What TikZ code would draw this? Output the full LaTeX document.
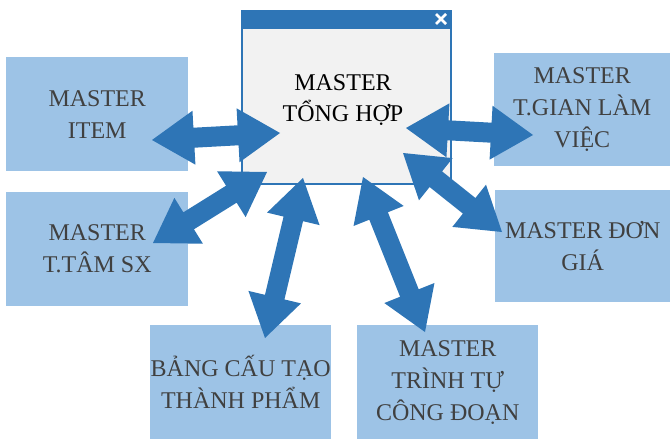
\documentclass[tikz,border=0pt]{standalone}
\usepackage{fontspec}
\setmainfont{Liberation Serif}
\usetikzlibrary{calc}

\definecolor{boxblue}{HTML}{9DC3E6}
\definecolor{arrowblue}{HTML}{2E75B6}
\definecolor{textgray}{HTML}{404040}
\definecolor{panelgray}{HTML}{F2F2F2}

% Thick two-headed block arrow between two named points
\newcommand\dblarrow[2]{%
  \fill[arrowblue] (#1)
    -- ($(#1)!42pt!(#2)!27pt!90:(#2)$)
    -- ($(#1)!42pt!(#2)!10pt!90:(#2)$)
    -- ($(#2)!42pt!(#1)!10pt!-90:(#1)$)
    -- ($(#2)!42pt!(#1)!27pt!-90:(#1)$)
    -- (#2)
    -- ($(#2)!42pt!(#1)!27pt!90:(#1)$)
    -- ($(#2)!42pt!(#1)!10pt!90:(#1)$)
    -- ($(#1)!42pt!(#2)!10pt!-90:(#2)$)
    -- ($(#1)!42pt!(#2)!27pt!-90:(#2)$)
    -- cycle;}

\begin{document}
\begin{tikzpicture}[x=1pt,y=-1pt,
  masterbox/.style={fill=boxblue, draw=none, text=textgray, align=center,
    inner sep=0pt, anchor=north west,
    font=\fontsize{24}{32}\selectfont},
  hubwin/.style={draw=arrowblue, line width=2pt, fill=panelgray,
    inner sep=0pt, anchor=north west},
  hubtitle/.style={align=center, text=black, font=\fontsize{24}{31}\selectfont}]
\useasboundingbox (0,0) rectangle (670,439);

% Surrounding master tables
\node[masterbox, minimum width=182pt, minimum height=114pt] (item)   at (6,57)   {MASTER\\ITEM};
\node[masterbox, minimum width=182pt, minimum height=114pt] (tam)    at (6,192)  {MASTER\\T.TÂM SX};
\node[masterbox, minimum width=181pt, minimum height=114pt] (bang)   at (150,325){BẢNG CẤU TẠO\\THÀNH PHẨM};
\node[masterbox, minimum width=181pt, minimum height=114pt] (trinh)  at (357,325){MASTER\\TRÌNH TỰ\\CÔNG ĐOẠN};
\node[masterbox, minimum width=176pt, minimum height=113pt] (tgian)  at (494,53) {MASTER\\T.GIAN LÀM\\VIỆC};
\node[masterbox, minimum width=175pt, minimum height=112pt] (dongia) at (495,190){MASTER ĐƠN\\GIÁ};

% Central window
\node[hubwin, minimum width=209pt, minimum height=173pt] (hub) at (241,10) {};
\fill[arrowblue] (hub.north west) rectangle ($(hub.north east)+(0,19)$);
\draw[white, line width=2.6pt] (436,14) -- (446,24) (446,14) -- (436,24);
\node[hubtitle] (hubtext) at (343,100) {MASTER\\TỔNG HỢP};

% Arrow end points
\coordinate (itemA)   at (152,140); \coordinate (itemB)   at (280,133);
\coordinate (tamA)    at (153,243); \coordinate (tamB)    at (267,172);
\coordinate (bangA)   at (265,338); \coordinate (bangB)   at (303,178);
\coordinate (trinhA)  at (425,332); \coordinate (trinhB)  at (363,177);
\coordinate (dongiaA) at (502,232); \coordinate (dongiaB) at (403,153);
\coordinate (tgianA)  at (533,135); \coordinate (tgianB)  at (406,128);

\dblarrow{itemA}{itemB}
\dblarrow{tamA}{tamB}
\dblarrow{bangA}{bangB}
\dblarrow{trinhA}{trinhB}
\dblarrow{dongiaA}{dongiaB}
\dblarrow{tgianA}{tgianB}
\end{tikzpicture}
\end{document}
